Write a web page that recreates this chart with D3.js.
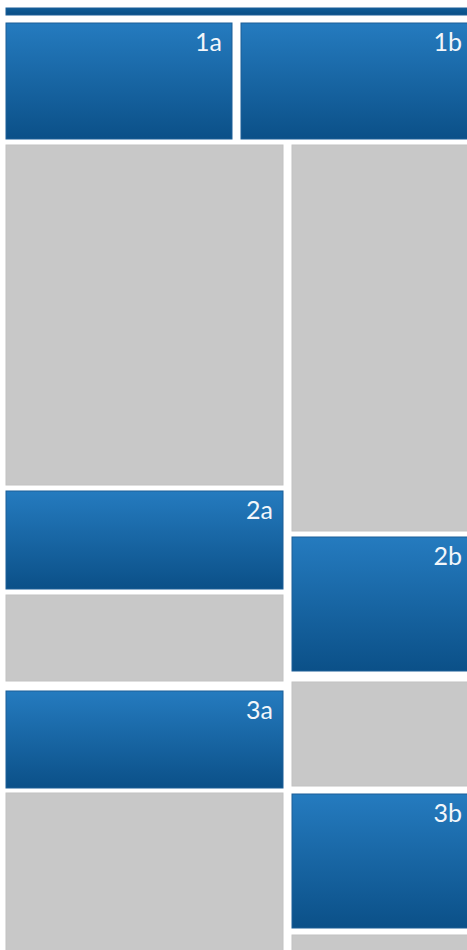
<!DOCTYPE html>
<html>
<head>
<meta charset="utf-8">
<script src="https://cdn.jsdelivr.net/npm/d3@7"></script>
<style>
  html, body { margin: 0; padding: 0; background: #fff; overflow: hidden; }
  svg { display: block; }
</style>
</head>
<body>
<svg id="chart"></svg>
<script>
// layout blocks (units = px of the original diagram)
var names   = ['bar', '1a', '1b', 'g1', '2a', 'g2', '3a', 'g3', 'g4', '2b', 'g5', '3b', 'g6'];
var kinds   = ['bar', 'blue', 'blue', 'gray', 'blue', 'gray', 'blue', 'gray', 'gray', 'blue', 'gray', 'blue', 'gray'];
var xStart  = [6, 6, 241, 6, 6, 6, 6, 6, 292, 292, 292, 292, 292];
var xEnd    = [480, 232, 475, 283, 283, 283, 283, 283, 480, 480, 480, 480, 480];
var yStart  = [8, 23, 23, 145, 491, 595, 691, 793, 145, 537, 682, 794, 935];
var yEnd    = [15, 139, 139, 485, 589, 681, 788, 960, 531, 671, 786, 928, 960];
var labels  = ['', '1a', '1b', '', '2a', '', '3a', '', '', '2b', '', '3b', ''];

var svgWidth = 467, svgHeight = 950;

var svg = d3.select('#chart')
    .attr('width', svgWidth)
    .attr('height', svgHeight);

var x = d3.scaleLinear().domain([0, 467]).range([0, svgWidth]);
var y = d3.scaleLinear().domain([0, 950]).range([0, svgHeight]);

var defs = svg.append('defs');
var grad = defs.append('linearGradient')
    .attr('id', 'blueGrad')
    .attr('x1', 0).attr('y1', 0).attr('x2', 0).attr('y2', 1);
grad.append('stop').attr('offset', '0%').attr('stop-color', '#257bbf');
grad.append('stop').attr('offset', '100%').attr('stop-color', '#0b5088');

var barGrad = defs.append('linearGradient')
    .attr('id', 'barGrad')
    .attr('x1', 0).attr('y1', 0).attr('x2', 0).attr('y2', 1);
barGrad.append('stop').attr('offset', '0%').attr('stop-color', '#0f5c97');
barGrad.append('stop').attr('offset', '100%').attr('stop-color', '#0a4e85');

var data = names.map(function (n, i) {
    return { name: n, kind: kinds[i], x0: xStart[i], x1: xEnd[i], y0: yStart[i], y1: yEnd[i], label: labels[i] };
});

var g = svg.append('g');

g.selectAll('rect.block')
    .data(data)
    .enter()
    .append('rect')
    .attr('class', 'block')
    .attr('x', d => x(d.x0))
    .attr('y', d => y(d.y0))
    .attr('width', d => x(d.x1) - x(d.x0))
    .attr('height', d => y(d.y1) - y(d.y0))
    .attr('fill', d => d.kind === 'gray' ? '#c8c8c8' : (d.kind === 'bar' ? 'url(#barGrad)' : 'url(#blueGrad)'))
    .attr('stroke', d => d.kind === 'gray' ? '#c2c2c2' : '#1c5f97')
    .attr('stroke-width', 1);

g.selectAll('text.label')
    .data(data.filter(d => d.label))
    .enter()
    .append('text')
    .attr('class', 'label')
    .attr('x', d => Math.min(x(d.x1), svgWidth + 5) - 10)
    .attr('y', d => y(d.y0) + 28)
    .attr('text-anchor', 'end')
    .attr('fill', '#f2f6fa')
    .style('font-family', 'Lato, "Open Sans", sans-serif')
    .style('font-size', '25px')
    .text(d => d.label);
</script>
</body>
</html>
